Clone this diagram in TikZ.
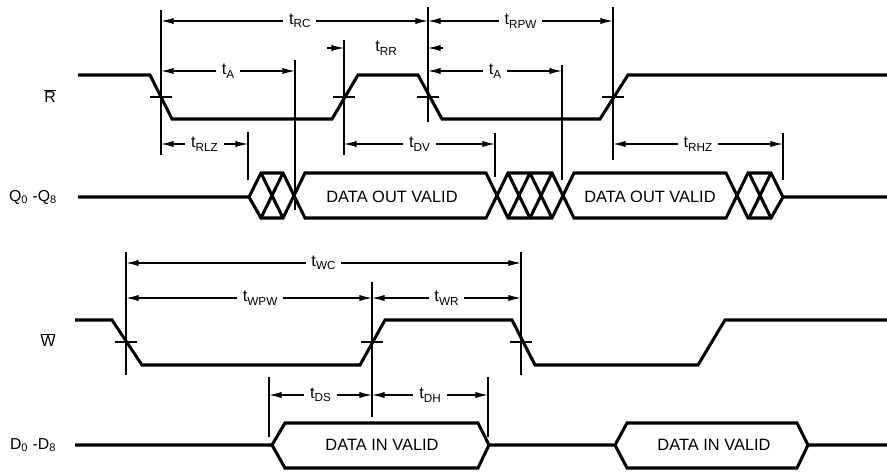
\documentclass[tikz,border=0pt]{standalone}
\usepackage{fontspec}
\setmainfont{Liberation Sans}
\usetikzlibrary{arrows.meta,calc}

\newcommand{\tsub}[1]{t\raisebox{-0.4ex}{\fontsize{10}{12}\selectfont #1}}

\begin{document}
\begin{tikzpicture}
[x=0.03cm,y=-0.03cm,
>={Latex[length=0.38cm,width=0.19cm]},
wave/.style={line width=2.6pt,black,line join=miter},
guide/.style={line width=1pt,black},
tick/.style={line width=1.2pt,black},
dim/.style={line width=1.1pt,<->},
dimin/.style={line width=1.1pt,->},
tlabel/.style={fill=white,inner xsep=5pt,inner ysep=1pt,font=\fontsize{14}{16}\selectfont},
sig/.style={font=\fontsize{13.5}{16}\selectfont},
bustext/.style={font=\fontsize{14}{16}\selectfont}]

\useasboundingbox (0,0) rectangle (887,471);

%edge crossings and guide points
\coordinate (rf1) at (161,97);
\coordinate (rr1) at (344,97);
\coordinate (rf2) at (428,97);
\coordinate (rr2) at (613,97);
\coordinate (qz) at (248,197);
\coordinate (qa1) at (295,197);
\coordinate (qv) at (495,197);
\coordinate (qa2) at (562,197);
\coordinate (qh) at (783,197);
\coordinate (wf1) at (126,342);
\coordinate (wr1) at (372,342);
\coordinate (wf2) at (521,342);
\coordinate (ds) at (269,445);
\coordinate (dh) at (488,445);

%levels of the dimension lines
\coordinate (yRC) at (0,21);
\coordinate (yRR) at (0,48);
\coordinate (yA) at (0,71);
\coordinate (yDV) at (0,144);
\coordinate (yWC) at (0,263);
\coordinate (yWPW) at (0,298);
\coordinate (yDS) at (0,395);

%signal names
\node[sig] (nR) at (50,96) {$\overline{\mbox{R}}$};
\node[sig] (nQ) at (33,197) {Q\textsubscript{0} -Q\textsubscript{8}};
\node[sig] (nW) at (48,340) {$\overline{\mbox{W}}$};
\node[sig] (nD) at (33,445) {D\textsubscript{0} -D\textsubscript{8}};

%draw the R waveform
\draw[wave] (78,75) -- (150,75) -- (172,119) -- (332,119) -- (358,75) -- (418,75)
  -- (442,119) -- (600,119) -- (628,75) -- (887,75);

%draw the Q bus
\draw[wave] (78,197) -- (249,197) -- (261,173) -- (283,173) -- (305,218) -- (486,218)
  -- (508,173) -- (552,173) -- (574,218) -- (726,218) -- (748,173) -- (771,173)
  -- (783,197) -- (887,197);
\draw[wave] (249,197) -- (261,218) -- (283,218) -- (305,173) -- (486,173) -- (508,218)
  -- (552,218) -- (574,173) -- (726,173) -- (748,218) -- (771,218) -- (783,197);
\foreach \c in {272,519,541,760}
{
\draw[wave] (\c-11,173) -- (\c+11,218);
\draw[wave] (\c-11,218) -- (\c+11,173);
}
\node[bustext] (qd1) at (392,197) {DATA OUT VALID};
\node[bustext] (qd2) at (650,197) {DATA OUT VALID};

%draw the W waveform
\draw[wave] (75,320) -- (112,320) -- (142,365) -- (360,365) -- (385,320) -- (512,320)
  -- (535,365) -- (698,365) -- (725,320) -- (887,320);

%draw the D bus
\draw[wave] (75,445) -- (272,445) -- (285,423) -- (478,423) -- (489,445) -- (615,445)
  -- (627,423) -- (797,423) -- (808,445) -- (887,445);
\draw[wave] (272,445) -- (285,468) -- (478,468) -- (489,445);
\draw[wave] (615,445) -- (627,468) -- (797,468) -- (808,445);
\node[bustext] (dd1) at (382,445) {DATA IN VALID};
\node[bustext] (dd2) at (714,445) {DATA IN VALID};

%ticks on the edges
\foreach \p in {rf1,rr1,rf2,rr2,wf1,wr1,wf2}
\draw[tick] ($(\p)+(-11,0)$) -- ($(\p)+(11,0)$);

%guide lines
\draw[guide] (rf1 |- 0,10) -- (rf1 |- 0,155);
\draw[guide] (rr1 |- 0,40) -- (rr1 |- 0,155);
\draw[guide] (rf2 |- 0,7) -- (rf2 |- 0,122);
\draw[guide] (rr2 |- 0,7) -- (rr2 |- 0,160);
\draw[guide] (qa1 |- 0,60) -- (qa1 |- 0,210);
\draw[guide] (qz |- 0,132) -- (qz |- 0,180);
\draw[guide] (qv |- 0,133) -- (qv |- 0,177);
\draw[guide] (qa2 |- 0,65) -- (qa2 |- 0,180);
\draw[guide] (qh |- 0,133) -- (qh |- 0,180);
\draw[guide] (wf1 |- 0,252) -- (wf1 |- 0,375);
\draw[guide] (wr1 |- 0,282) -- (wr1 |- 0,417);
\draw[guide] (wf2 |- 0,252) -- (wf2 |- 0,375);
\draw[guide] (ds |- 0,377) -- (ds |- 0,437);
\draw[guide] (dh |- 0,377) -- (dh |- 0,437);

%draw the read timings
\draw[dim] (rf1 |- yRC) -- node[tlabel,pos=0.52] (lRC) {\tsub{RC}} (rf2 |- yRC);
\draw[dim] (rf2 |- yRC) -- node[tlabel] (lRPW) {\tsub{RPW}} (rr2 |- yRC);
\draw[dimin] ($(rr1 |- yRR)+(-17,0)$) -- (rr1 |- yRR);
\draw[dimin] ($(rf2 |- yRR)+(15,0)$) -- (rf2 |- yRR);
\node[sig,font=\fontsize{14}{16}\selectfont] (lRR) at ($(rr1 |- yRR)!0.5!(rf2 |- yRR)$) {\tsub{RR}};
\draw[dim] (rf1 |- yA) -- node[tlabel] (lA1) {\tsub{A}} (qa1 |- yA);
\draw[dim] (rf2 |- yA) -- node[tlabel] (lA2) {\tsub{A}} (qa2 |- yA);
\draw[dim] (rf1 |- yDV) -- node[tlabel] (lRLZ) {\tsub{RLZ}} (qz |- yDV);
\draw[dim] (rr1 |- yDV) -- node[tlabel] (lDV) {\tsub{DV}} (qv |- yDV);
\draw[dim] (rr2 |- yDV) -- node[tlabel] (lRHZ) {\tsub{RHZ}} (qh |- yDV);

%draw the write timings
\draw[dim] (wf1 |- yWC) -- node[tlabel] (lWC) {\tsub{WC}} (wf2 |- yWC);
\draw[dim] (wf1 |- yWPW) -- node[tlabel,pos=0.545] (lWPW) {\tsub{WPW}} (wr1 |- yWPW);
\draw[dim] (wr1 |- yWPW) -- node[tlabel] (lWR) {\tsub{WR}} (wf2 |- yWPW);
\draw[dim] (ds |- yDS) -- node[tlabel] (lDS) {\tsub{DS}} (wr1 |- yDS);
\draw[dim] (wr1 |- yDS) -- node[tlabel] (lDH) {\tsub{DH}} (dh |- yDS);

\end{tikzpicture}
\end{document}
